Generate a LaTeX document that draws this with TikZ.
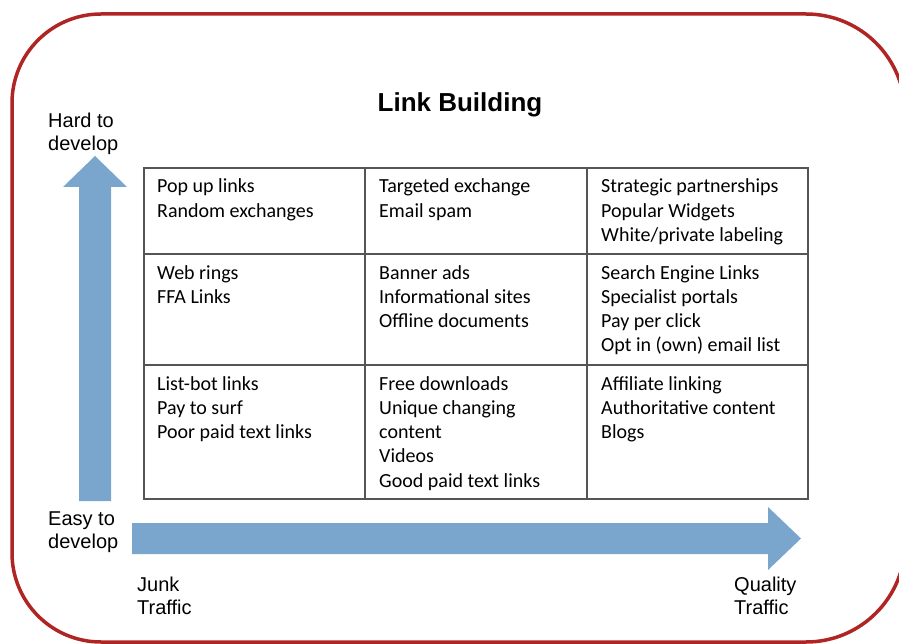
\documentclass[tikz,border=0pt]{standalone}
\usepackage{fontspec}
\setmainfont{Liberation Sans}
\newfontfamily\cellfont{Carlito}

\definecolor{framered}{RGB}{176,36,36}
\definecolor{axisblue}{RGB}{122,166,206}
\definecolor{gridgray}{RGB}{85,85,85}

\tikzset{
  cell/.style={anchor=base west, align=left, inner sep=0pt,
    font=\cellfont\fontsize{20}{24.3}\selectfont},
  axislabel/.style={anchor=base west, align=left, inner sep=0pt,
    font=\fontsize{20}{23}\selectfont},
  grid/.style={draw=gridgray, line width=1.5pt},
}

\begin{document}
\begin{tikzpicture}[x=1pt, y=-1pt]
\useasboundingbox (0,0) rectangle (899,644);
\clip (0,0) rectangle (899,644);

% outer frame, its right side lies past the page (y runs downwards)
\draw[framered, line width=3.5pt] (905,543) arc[start angle=0, end angle=90, radius=99]
  -- (101,642) arc[start angle=90, end angle=180, radius=89]
  -- (12,103) arc[start angle=180, end angle=270, radius=89]
  -- (806,14) arc[start angle=270, end angle=360, radius=99];

\node[anchor=base, inner sep=0pt, font=\bfseries\fontsize{26}{30}\selectfont]
  (title) at (460,112) {Link Building};

% axes
\fill[axisblue] (79,501) -- (79,187) -- (63,187) -- (95,156)
  -- (127,187) -- (111,187) -- (111,501) -- cycle;
\fill[axisblue] (132,523) -- (768,523) -- (768,507) -- (801,538.5)
  -- (768,570) -- (768,554) -- (132,554) -- cycle;

% labels sit on the baseline of their last line
\node[axislabel] (hard) at (48,151) {Hard to\\develop};
\node[axislabel] (easy) at (48,548.5) {Easy to\\develop};
\node[axislabel] (junk) at (137,614) {Junk\\Traffic};
\node[axislabel] (quality) at (734,614) {Quality\\Traffic};

% the grid
\draw[grid] (144,168) rectangle (808,499);
\draw[grid] (365,168) -- (365,499) (587,168) -- (587,499)
  (144,254) -- (808,254) (144,365) -- (808,365);

\node[cell] (c11) at (157,217.3) {Pop up links\\Random exchanges};
\node[cell] (c12) at (379,217.3) {Targeted exchange\\Email spam};
\node[cell] (c13) at (601,241.6) {Strategic partnerships\\Popular Widgets\\White/private labeling};
\node[cell] (c21) at (157,303.3) {Web rings\\FFA Links};
\node[cell] (c22) at (379,327.6) {Banner ads\\Informational sites\\Offline documents};
\node[cell] (c23) at (601,351.9) {Search Engine Links\\Specialist portals\\Pay per click\\Opt in (own) email list};
\node[cell] (c31) at (157,438.6) {List-bot links\\Pay to surf\\Poor paid text links};
\node[cell] (c32) at (379,487.2) {Free downloads\\Unique changing\\content\\Videos\\Good paid text links};
\node[cell] (c33) at (601,438.6) {Affiliate linking\\Authoritative content\\Blogs};

\end{tikzpicture}
\end{document}
